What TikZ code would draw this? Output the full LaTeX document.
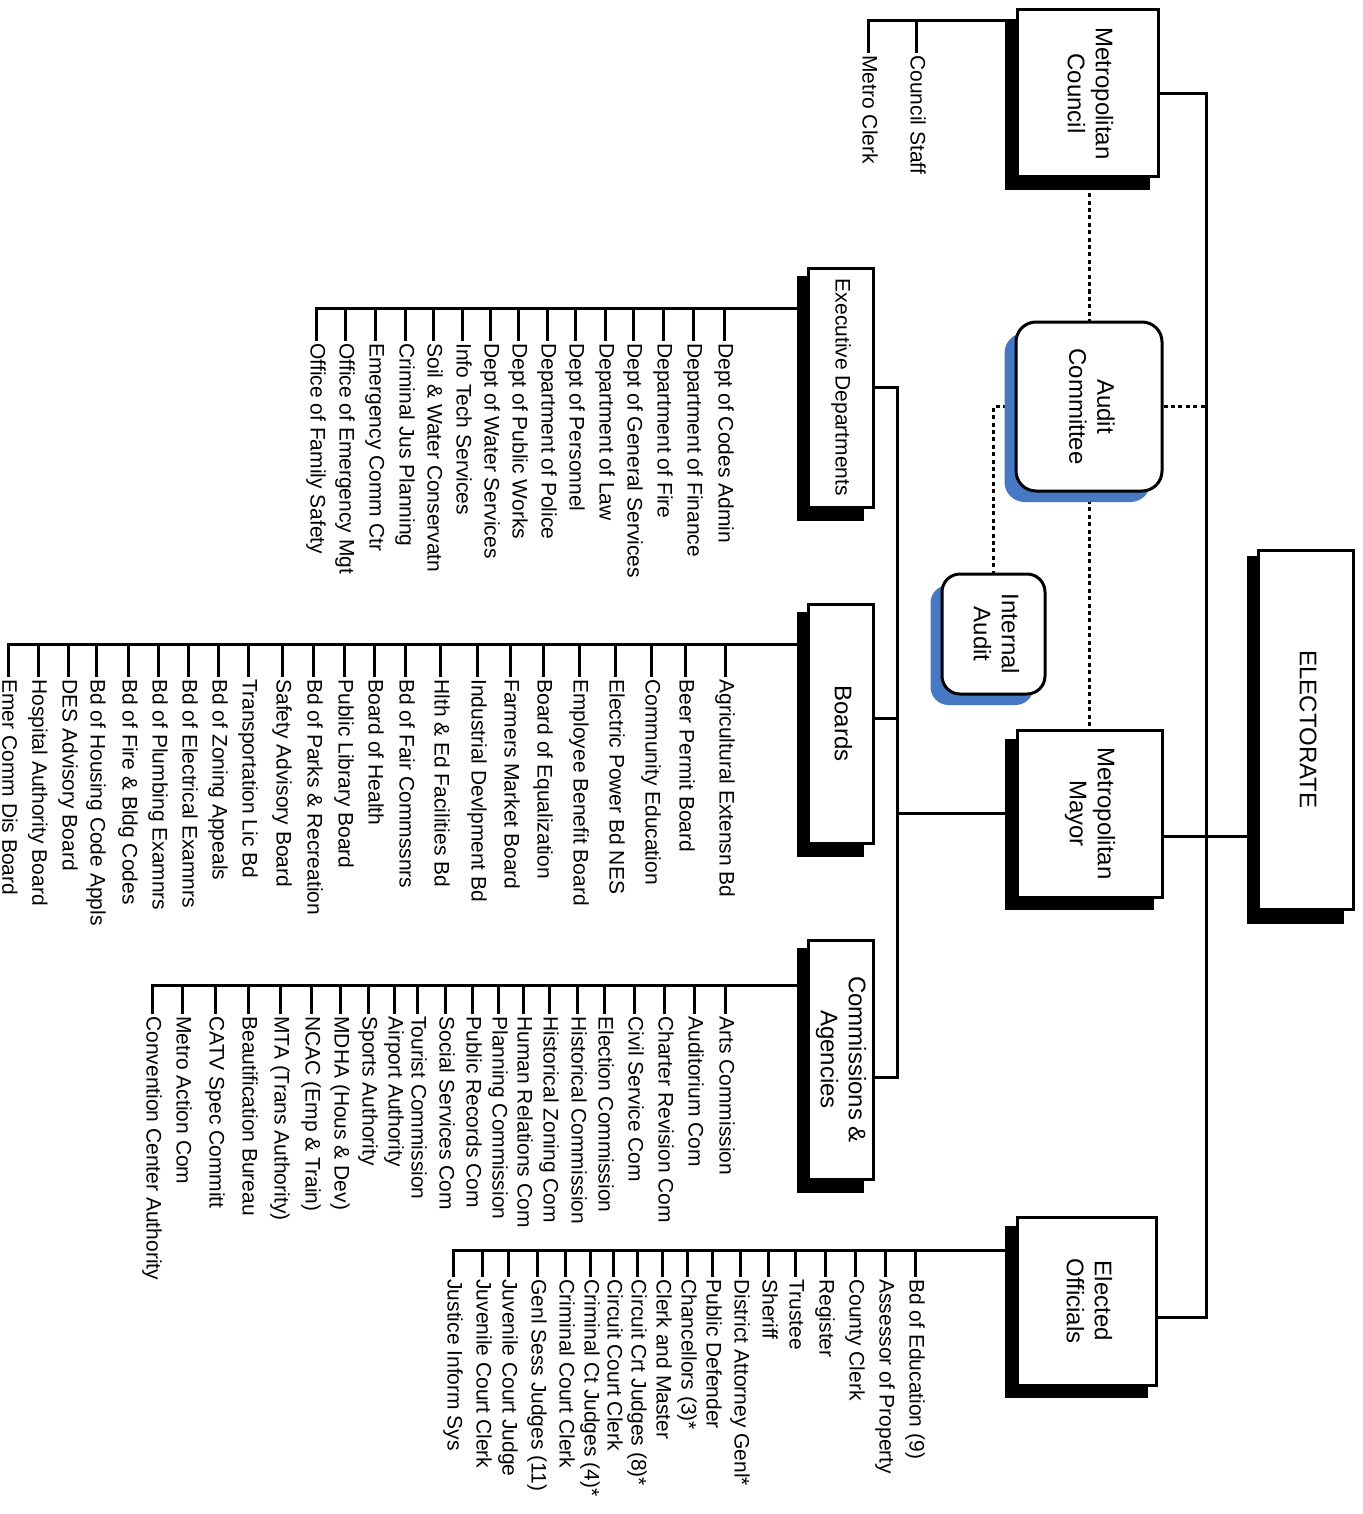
\documentclass[tikz,border=0pt]{standalone}
\usepackage{fontspec}
\setmainfont{Liberation Sans}
\usepackage{graphicx}
\usepackage{tikz}
\usetikzlibrary{calc}
\usetikzlibrary{shadows,backgrounds}

\definecolor{auditblue}{RGB}{70,120,195}
\newcommand{\vlabel}[1]{\rotatebox{-90}{\begin{tabular}{@{}c@{}}#1\end{tabular}}}

\begin{document}
\begin{tikzpicture}[x=0.5pt,y=-0.5pt]
    \tikzset{
        office/.style={draw, line width=1.5pt, fill=white, inner sep=0pt,
            font=\fontsize{12}{14}\selectfont,
            drop shadow={shadow xshift=-5pt, shadow yshift=-5.25pt, shadow scale=1.025, fill=black, opacity=1}},
        panel/.style={office, minimum width=32.5pt, minimum height=119.5pt, node distance=168pt},
        roundbox/.style={draw, line width=1.5pt, fill=white, inner sep=0pt, rounded corners=10pt,
            font=\fontsize{12}{14}\selectfont,
            drop shadow={shadow xshift=-5.75pt, shadow yshift=-5.5pt, fill=auditblue, opacity=1}},
        member/.style={rotate=-90, anchor=west, inner sep=1pt, text height=8pt, text depth=2.5pt,
            font=\fontsize{10.5}{12}\selectfont},
        line/.style={draw, line width=1.5pt},
        dotline/.style={draw, line width=1.5pt, dash pattern=on 2pt off 1.7pt},
    };
    \useasboundingbox (0,0) rectangle (1363,1514);

    % main offices
    \node [office, minimum width=70.5pt, minimum height=83.5pt] (council) at (1087.5,93.5) {\vlabel{Metropolitan\\Council}};
    \node [roundbox, minimum width=73pt, minimum height=84.5pt] (audit) at (1089,406.5) {\vlabel{Audit\\Committee}};
    \node [roundbox, minimum width=51.5pt, minimum height=60pt, rounded corners=9pt] (internal) at (993.5,634) {\vlabel{Internal\\Audit}};
    \node [office, minimum width=72.5pt, minimum height=83.5pt] (mayor) at (1089.5,813.5) {\vlabel{Metropolitan\\Mayor}};
    \node [office, minimum width=47.5pt, minimum height=179.5pt] (electorate) at (1305.5,729.5) {\vlabel{ELECTORATE}};
    \node [office, minimum width=69.5pt, minimum height=84pt] (elected) at (1086.5,1301) {\vlabel{Elected\\Officials}};

    \node [panel, font=\fontsize{10.5}{12}\selectfont] (exec) at (840.5,387.5) {\vlabel{Executive Departments}};
    \node [panel, below of=exec] (boards) {\vlabel{Boards}};
    \node [panel, below of=boards] (comm) {\vlabel{Commissions \&\\Agencies}};

    % council staff
    \node [member] (cs1) at (916,53) {Council Staff};
    \node [member] (cs2) at ($(cs1.west)+(-48,0)$) {Metro Clerk};

    % executive departments
    \node [member] (ed1) at (724,341) {Dept of Codes Admin};
    \node [member] (ed2) at ($(ed1.west)+(-31,0)$) {Department of Finance};
    \node [member] (ed3) at ($(ed2.west)+(-30,0)$) {Department of Fire};
    \node [member] (ed4) at ($(ed3.west)+(-30,0)$) {Dept of General Services};
    \node [member] (ed5) at ($(ed4.west)+(-28,0)$) {Department of Law};
    \node [member] (ed6) at ($(ed5.west)+(-30,0)$) {Dept of Personnel};
    \node [member] (ed7) at ($(ed6.west)+(-28,0)$) {Department of Police};
    \node [member] (ed8) at ($(ed7.west)+(-29,0)$) {Dept of Public Works};
    \node [member] (ed9) at ($(ed8.west)+(-28,0)$) {Dept of Water Services};
    \node [member] (ed10) at ($(ed9.west)+(-28,0)$) {Info Tech Services};
    \node [member] (ed11) at ($(ed10.west)+(-29,0)$) {Soil \& Water Conservatn};
    \node [member] (ed12) at ($(ed11.west)+(-28,0)$) {Criminal Jus Planning};
    \node [member] (ed13) at ($(ed12.west)+(-30,0)$) {Emergency Comm Ctr};
    \node [member] (ed14) at ($(ed13.west)+(-30,0)$) {Office of Emergency Mgt};
    \node [member] (ed15) at ($(ed14.west)+(-29,0)$) {Office of Family Safety};

    % boards
    \node [member] (bd1) at (725,677) {Agricultural Extensn Bd};
    \node [member] (bd2) at ($(bd1.west)+(-40,0)$) {Beer Permit Board};
    \node [member] (bd3) at ($(bd2.west)+(-34,0)$) {Community Education};
    \node [member] (bd4) at ($(bd3.west)+(-36,0)$) {Electric Power Bd NES};
    \node [member] (bd5) at ($(bd4.west)+(-36,0)$) {Employee Benefit Board};
    \node [member] (bd6) at ($(bd5.west)+(-36,0)$) {Board of Equalization};
    \node [member] (bd7) at ($(bd6.west)+(-33,0)$) {Farmers Market Board};
    \node [member] (bd8) at ($(bd7.west)+(-33,0)$) {Industrial Devlpment Bd};
    \node [member] (bd9) at ($(bd8.west)+(-37,0)$) {Hlth \& Ed Facilities Bd};
    \node [member] (bd10) at ($(bd9.west)+(-35,0)$) {Bd of Fair Commssnrs};
    \node [member] (bd11) at ($(bd10.west)+(-31,0)$) {Board of Health};
    \node [member] (bd12) at ($(bd11.west)+(-30,0)$) {Public Library Board};
    \node [member] (bd13) at ($(bd12.west)+(-31,0)$) {Bd of Parks \& Recreation};
    \node [member] (bd14) at ($(bd13.west)+(-31,0)$) {Safety Advisory Board};
    \node [member] (bd15) at ($(bd14.west)+(-34,0)$) {Transportation Lic Bd};
    \node [member] (bd16) at ($(bd15.west)+(-30,0)$) {Bd of Zoning Appeals};
    \node [member] (bd17) at ($(bd16.west)+(-30,0)$) {Bd of Electrical Examnrs};
    \node [member] (bd18) at ($(bd17.west)+(-30,0)$) {Bd of Plumbing Examnrs};
    \node [member] (bd19) at ($(bd18.west)+(-30,0)$) {Bd of Fire \& Bldg Codes};
    \node [member] (bd20) at ($(bd19.west)+(-32,0)$) {Bd of Housing Code Appls};
    \node [member] (bd21) at ($(bd20.west)+(-28,0)$) {DES Advisory Board};
    \node [member] (bd22) at ($(bd21.west)+(-30,0)$) {Hospital Authority Board};
    \node [member] (bd23) at ($(bd22.west)+(-30,0)$) {Emer Comm Dis Board};

    % commissions
    \node [member] (cm1) at (725,1014) {Arts Commission};
    \node [member] (cm2) at ($(cm1.west)+(-31,0)$) {Auditorium Com};
    \node [member] (cm3) at ($(cm2.west)+(-30,0)$) {Charter Revision Com};
    \node [member] (cm4) at ($(cm3.west)+(-30,0)$) {Civil Service Com};
    \node [member] (cm5) at ($(cm4.west)+(-30,0)$) {Election Commission};
    \node [member] (cm6) at ($(cm5.west)+(-27,0)$) {Historical Commission};
    \node [member] (cm7) at ($(cm6.west)+(-28,0)$) {Historical Zoning Com};
    \node [member] (cm8) at ($(cm7.west)+(-26,0)$) {Human Relations Com};
    \node [member] (cm9) at ($(cm8.west)+(-25,0)$) {Planning Commission};
    \node [member] (cm10) at ($(cm9.west)+(-26,0)$) {Public Records Com};
    \node [member] (cm11) at ($(cm10.west)+(-27,0)$) {Social Services Com};
    \node [member] (cm12) at ($(cm11.west)+(-28,0)$) {Tourist Commission};
    \node [member] (cm13) at ($(cm12.west)+(-23,0)$) {Airport Authority};
    \node [member] (cm14) at ($(cm13.west)+(-26,0)$) {Sports Authority};
    \node [member] (cm15) at ($(cm14.west)+(-28,0)$) {MDHA (Hous \& Dev)};
    \node [member] (cm16) at ($(cm15.west)+(-29,0)$) {NCAC (Emp \& Train)};
    \node [member] (cm17) at ($(cm16.west)+(-31,0)$) {MTA (Trans Authority)};
    \node [member] (cm18) at ($(cm17.west)+(-32,0)$) {Beautification Bureau};
    \node [member] (cm19) at ($(cm18.west)+(-33,0)$) {CATV Spec Committ};
    \node [member] (cm20) at ($(cm19.west)+(-33,0)$) {Metro Action Com};
    \node [member] (cm21) at ($(cm20.west)+(-30,0)$) {Convention Center Authority};

    % elected officials
    \node [member] (eo1) at (915,1277) {Bd of Education (9)};
    \node [member] (eo2) at ($(eo1.west)+(-30,0)$) {Assessor of Property};
    \node [member] (eo3) at ($(eo2.west)+(-30,0)$) {County Clerk};
    \node [member] (eo4) at ($(eo3.west)+(-30,0)$) {Register};
    \node [member] (eo5) at ($(eo4.west)+(-30,0)$) {Trustee};
    \node [member] (eo6) at ($(eo5.west)+(-27,0)$) {Sheriff};
    \node [member] (eo7) at ($(eo6.west)+(-28,0)$) {District Attorney Genl*};
    \node [member] (eo8) at ($(eo7.west)+(-28,0)$) {Public Defender};
    \node [member] (eo9) at ($(eo8.west)+(-25,0)$) {Chancellors (3)*};
    \node [member] (eo10) at ($(eo9.west)+(-25,0)$) {Clerk and Master};
    \node [member] (eo11) at ($(eo10.west)+(-25,0)$) {Circuit Crt Judges (8)*};
    \node [member] (eo12) at ($(eo11.west)+(-24,0)$) {Circuit Court Clerk};
    \node [member] (eo13) at ($(eo12.west)+(-23,0)$) {Criminal Ct Judges (4)*};
    \node [member] (eo14) at ($(eo13.west)+(-25,0)$) {Criminal Court Clerk};
    \node [member] (eo15) at ($(eo14.west)+(-28,0)$) {Genl Sess Judges (11)};
    \node [member] (eo16) at ($(eo15.west)+(-29,0)$) {Juvenile Court Judge};
    \node [member] (eo17) at ($(eo16.west)+(-26,0)$) {Juvenile Court Clerk};
    \node [member] (eo18) at ($(eo17.west)+(-29,0)$) {Justice Inform Sys};

    % bus and junction points
    \coordinate (cbus) at ([yshift=-6pt]council.north west);
    \coordinate (exbus) at ([yshift=-21pt]exec.north west);
    \coordinate (bdbus) at ([yshift=-21pt]boards.north west);
    \coordinate (cmbus) at ([yshift=-23.5pt]comm.north west);
    \coordinate (eobus) at ([yshift=-17.5pt]elected.north west);
    \coordinate (spine) at (1206,95);
    \coordinate (trunk) at (897,387.5);
    \coordinate (mayorout) at ([yshift=-11.5pt]mayor.east);
    \coordinate (electedout) at ([yshift=-8pt]elected.east);
    \coordinate (boardsout) at ([yshift=2.5pt]boards.east);
    \coordinate (commout) at ([yshift=-9pt]comm.east);

    \begin{pgfonlayer}{background}
    \path [line] (council.east) -| (spine) |- (electedout);
    \path [line] (mayorout) -- (mayorout -| electorate.west);
    \path [line] (exec.east) -| (trunk) |- (commout);
    \path [line] (boardsout) -- (boardsout -| trunk);
    \path [line] (mayor.west) -- (mayor.west -| trunk);

    \path [dotline] (audit.north |- council.south) -- (audit.north);
    \path [dotline] (audit.south) -- (audit.south |- mayor.north);
    \path [dotline] (audit.east) -- (audit.east -| spine);
    \path [dotline] (audit.west) -| (internal.north);

    \path [line] (cs1.west) |- (cbus);
    \path [line] (cs2.west) |- (cbus);

    \path [line] (ed1.west) |- (exbus);
    \path [line] (ed2.west) |- (exbus);
    \path [line] (ed3.west) |- (exbus);
    \path [line] (ed4.west) |- (exbus);
    \path [line] (ed5.west) |- (exbus);
    \path [line] (ed6.west) |- (exbus);
    \path [line] (ed7.west) |- (exbus);
    \path [line] (ed8.west) |- (exbus);
    \path [line] (ed9.west) |- (exbus);
    \path [line] (ed10.west) |- (exbus);
    \path [line] (ed11.west) |- (exbus);
    \path [line] (ed12.west) |- (exbus);
    \path [line] (ed13.west) |- (exbus);
    \path [line] (ed14.west) |- (exbus);
    \path [line] (ed15.west) |- (exbus);

    \path [line] (bd1.west) |- (bdbus);
    \path [line] (bd2.west) |- (bdbus);
    \path [line] (bd3.west) |- (bdbus);
    \path [line] (bd4.west) |- (bdbus);
    \path [line] (bd5.west) |- (bdbus);
    \path [line] (bd6.west) |- (bdbus);
    \path [line] (bd7.west) |- (bdbus);
    \path [line] (bd8.west) |- (bdbus);
    \path [line] (bd9.west) |- (bdbus);
    \path [line] (bd10.west) |- (bdbus);
    \path [line] (bd11.west) |- (bdbus);
    \path [line] (bd12.west) |- (bdbus);
    \path [line] (bd13.west) |- (bdbus);
    \path [line] (bd14.west) |- (bdbus);
    \path [line] (bd15.west) |- (bdbus);
    \path [line] (bd16.west) |- (bdbus);
    \path [line] (bd17.west) |- (bdbus);
    \path [line] (bd18.west) |- (bdbus);
    \path [line] (bd19.west) |- (bdbus);
    \path [line] (bd20.west) |- (bdbus);
    \path [line] (bd21.west) |- (bdbus);
    \path [line] (bd22.west) |- (bdbus);
    \path [line] (bd23.west) |- (bdbus);

    \path [line] (cm1.west) |- (cmbus);
    \path [line] (cm2.west) |- (cmbus);
    \path [line] (cm3.west) |- (cmbus);
    \path [line] (cm4.west) |- (cmbus);
    \path [line] (cm5.west) |- (cmbus);
    \path [line] (cm6.west) |- (cmbus);
    \path [line] (cm7.west) |- (cmbus);
    \path [line] (cm8.west) |- (cmbus);
    \path [line] (cm9.west) |- (cmbus);
    \path [line] (cm10.west) |- (cmbus);
    \path [line] (cm11.west) |- (cmbus);
    \path [line] (cm12.west) |- (cmbus);
    \path [line] (cm13.west) |- (cmbus);
    \path [line] (cm14.west) |- (cmbus);
    \path [line] (cm15.west) |- (cmbus);
    \path [line] (cm16.west) |- (cmbus);
    \path [line] (cm17.west) |- (cmbus);
    \path [line] (cm18.west) |- (cmbus);
    \path [line] (cm19.west) |- (cmbus);
    \path [line] (cm20.west) |- (cmbus);
    \path [line] (cm21.west) |- (cmbus);

    \path [line] (eo1.west) |- (eobus);
    \path [line] (eo2.west) |- (eobus);
    \path [line] (eo3.west) |- (eobus);
    \path [line] (eo4.west) |- (eobus);
    \path [line] (eo5.west) |- (eobus);
    \path [line] (eo6.west) |- (eobus);
    \path [line] (eo7.west) |- (eobus);
    \path [line] (eo8.west) |- (eobus);
    \path [line] (eo9.west) |- (eobus);
    \path [line] (eo10.west) |- (eobus);
    \path [line] (eo11.west) |- (eobus);
    \path [line] (eo12.west) |- (eobus);
    \path [line] (eo13.west) |- (eobus);
    \path [line] (eo14.west) |- (eobus);
    \path [line] (eo15.west) |- (eobus);
    \path [line] (eo16.west) |- (eobus);
    \path [line] (eo17.west) |- (eobus);
    \path [line] (eo18.west) |- (eobus);
    \end{pgfonlayer}
\end{tikzpicture}
\end{document}
